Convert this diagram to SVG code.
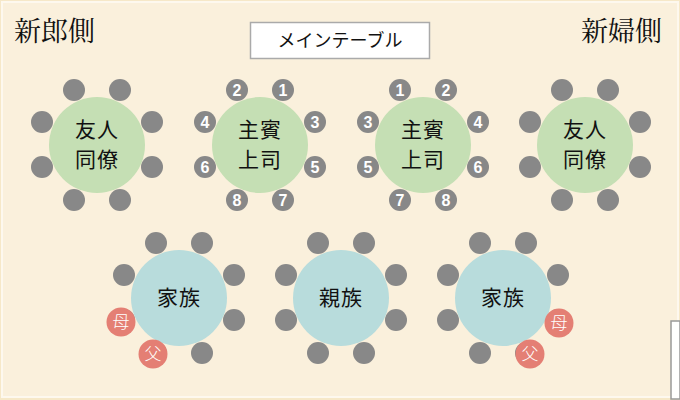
<svg xmlns="http://www.w3.org/2000/svg" width="680" height="400" viewBox="0 0 680 400">
<defs>
<style>
.bg{fill:#FAF0DC;stroke:#FDF8EE;stroke-width:2}
.chair{fill:#888888}
.parent{fill:#E47F74}
.tg{fill:#C5DFB4}
.tb{fill:#B8DCDC}
.num{font-family:"Liberation Sans",Arial,sans-serif;font-size:16px;font-weight:bold;fill:#FFFFFF;text-anchor:middle}
.pt{font-family:"Noto Sans CJK JP",sans-serif;font-size:17px;font-weight:300;fill:#FFFFFF;text-anchor:middle}
.lbl{font-family:"Noto Sans CJK JP",sans-serif;font-size:21px;fill:#111111;text-anchor:middle;letter-spacing:1px}
.side{font-family:"Noto Serif CJK JP","Noto Sans CJK JP",serif;font-size:27px;fill:#111111}
.main{font-family:"Noto Sans CJK JP",sans-serif;font-size:18px;fill:#111111;text-anchor:middle}
</style>
<g id="chairs8">
<circle class="chair" cx="-23" cy="-55" r="11"/>
<circle class="chair" cx="23" cy="-55" r="11"/>
<circle class="chair" cx="-55" cy="-23" r="11"/>
<circle class="chair" cx="55" cy="-23" r="11"/>
<circle class="chair" cx="-55" cy="22" r="11"/>
<circle class="chair" cx="55" cy="22" r="11"/>
<circle class="chair" cx="-23" cy="55" r="11"/>
<circle class="chair" cx="23" cy="55" r="11"/>
</g>
</defs>
<rect x="0" y="0" width="680" height="400" fill="#F6E8C8"/>
<rect class="bg" x="2" y="2" width="676" height="395"/>

<g id="title-groom"><text class="side" x="14" y="41">新郎側</text></g>
<g id="title-bride"><text class="side" x="662" y="41" text-anchor="end">新婦側</text></g>

<g id="main-table">
<rect x="250.5" y="22.5" width="179" height="36" fill="#FFFFFF" stroke="#AAAAAA" stroke-width="1.5"/>
<text class="main" x="340" y="47">メインテーブル</text>
</g>

<g id="connectors"></g>

<g id="table-friends-left">
<use href="#chairs8" x="97" y="145"/>
<circle class="tg" cx="97" cy="145" r="48"/>
<text class="lbl" x="97" y="137">友人</text>
<text class="lbl" x="97" y="167">同僚</text>
</g>

<g id="table-boss-left">
<use href="#chairs8" x="260" y="145"/>
<circle class="tg" cx="260" cy="145" r="48"/>
<text class="lbl" x="260" y="137">主賓</text>
<text class="lbl" x="260" y="167">上司</text>
<text class="num" x="237" y="96">2</text>
<text class="num" x="283" y="96">1</text>
<text class="num" x="205" y="128">4</text>
<text class="num" x="315" y="128">3</text>
<text class="num" x="205" y="173">6</text>
<text class="num" x="315" y="173">5</text>
<text class="num" x="237" y="206">8</text>
<text class="num" x="283" y="206">7</text>
</g>

<g id="table-boss-right">
<use href="#chairs8" x="423" y="145"/>
<circle class="tg" cx="423" cy="145" r="48"/>
<text class="lbl" x="423" y="137">主賓</text>
<text class="lbl" x="423" y="167">上司</text>
<text class="num" x="400" y="96">1</text>
<text class="num" x="446" y="96">2</text>
<text class="num" x="368" y="128">3</text>
<text class="num" x="478" y="128">4</text>
<text class="num" x="368" y="173">5</text>
<text class="num" x="478" y="173">6</text>
<text class="num" x="400" y="206">7</text>
<text class="num" x="446" y="206">8</text>
</g>

<g id="table-friends-right">
<use href="#chairs8" x="585" y="145"/>
<circle class="tg" cx="585" cy="145" r="48"/>
<text class="lbl" x="585" y="137">友人</text>
<text class="lbl" x="585" y="167">同僚</text>
</g>

<g id="table-family-left">
<use href="#chairs8" x="179" y="298"/>
<circle class="tb" cx="179" cy="298" r="48"/>
<text class="lbl" x="179" y="305">家族</text>
<circle class="parent" cx="121" cy="322" r="14.5"/>
<text class="pt" x="121" y="328">母</text>
<circle class="parent" cx="153" cy="354" r="14.5"/>
<text class="pt" x="153" y="360">父</text>
</g>

<g id="table-relatives">
<use href="#chairs8" x="341" y="298"/>
<circle class="tb" cx="341" cy="298" r="48"/>
<text class="lbl" x="341" y="305">親族</text>
</g>

<g id="table-family-right">
<use href="#chairs8" x="503" y="298"/>
<circle class="tb" cx="503" cy="298" r="48"/>
<text class="lbl" x="503" y="305">家族</text>
<circle class="parent" cx="559" cy="323" r="14.5"/>
<text class="pt" x="559" y="329">母</text>
<circle class="parent" cx="530" cy="354" r="14.5"/>
<text class="pt" x="530" y="360">父</text>
</g>

<rect x="671" y="321" width="9" height="78" fill="#FFFFFF" stroke="#999999" stroke-width="1.5"/>
</svg>
